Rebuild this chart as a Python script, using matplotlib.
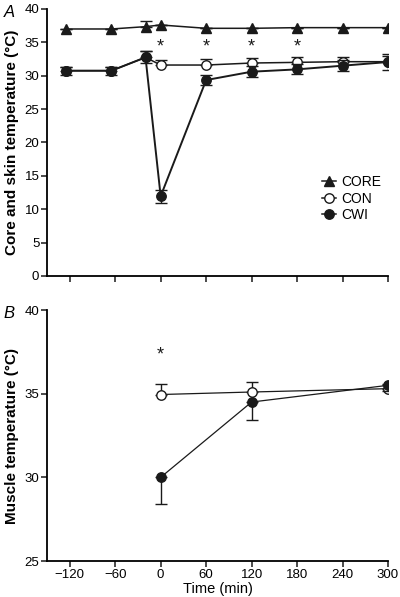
import matplotlib.pyplot as plt
from matplotlib.lines import Line2D

plt.rcParams['font.family'] = ['Liberation Sans', 'DejaVu Sans']

# panel A: core and skin temperature
t_pre = [-125, -65, -20]
t_post = [0, 60, 120, 180, 240, 300]
t_all = t_pre + t_post

core = [37.0, 37.0, 37.35, 37.6, 37.1, 37.1, 37.2, 37.2, 37.2]
core_err = [0.0, 0.0, 0.8, 0.0, 0.0, 0.0, 0.0, 0.0, 0.0]

con_a = [30.75, 30.75, 32.75, 31.6, 31.6, 31.9, 32.0, 32.1, 32.1]
con_a_err = [0.6, 0.6, 0.9, 0.7, 0.9, 0.8, 0.8, 0.7, 0.9]

cwi_a = [30.75, 30.75, 32.75, 11.95, 29.35, 30.6, 30.95, 31.5, 32.05]
cwi_a_err = [0.6, 0.6, 0.9, 0.95, 0.75, 0.8, 0.75, 0.8, 1.2]

star_a_x = [0, 60, 120, 180]
star_a_y = 34.75

# panel B: muscle temperature
t_b = [0, 120, 300]
con_b = [34.95, 35.1, 35.3]
con_b_err = [0.65, 0.6, 0.3]
cwi_b = [30.0, 34.5, 35.5]
cwi_b_err = [1.6, 1.05, 0.35]
star_b_x = [0]
star_b_y = 37.5

xticks = [-120, -60, 0, 60, 120, 180, 240, 300]

fig = plt.figure(figsize=(4.0, 5.97), dpi=100)
ax1 = fig.add_axes([0.1175, 0.5377, 0.8525, 0.4473])
ax2 = fig.add_axes([0.1175, 0.0603, 0.8525, 0.4204])

ms = 6.8
k = '#1a1a1a'

ax1.errorbar(t_all, core, yerr=[[0] * 9, core_err], color=k, lw=1.1, marker='^',
             ms=ms, capsize=4, elinewidth=1.0, capthick=1.0, zorder=3)
ax1.errorbar(t_all, con_a, yerr=[[0] * 9, con_a_err], color=k, lw=1.1, marker='o',
             ms=ms, mfc='white', mec=k, capsize=4, elinewidth=1.0, capthick=1.0,
             zorder=3)
ax1.errorbar(t_all, cwi_a, yerr=cwi_a_err, color=k, lw=1.4, marker='o',
             ms=ms, mfc=k, mec=k, capsize=4, elinewidth=1.0, capthick=1.0,
             zorder=4)
for x in star_a_x:
    ax1.text(x, star_a_y - 0.5, '*', ha='center', va='center', fontsize=13, color=k)

handles = [
    Line2D([], [], color=k, lw=1.1, marker='^', ms=ms),
    Line2D([], [], color=k, lw=1.1, marker='o', ms=ms, mfc='white', mec=k),
    Line2D([], [], color=k, lw=1.1, marker='o', ms=ms, mfc=k, mec=k),
]
ax1.legend(handles, ['CORE', 'CON', 'CWI'], loc='center left',
           bbox_to_anchor=(0.77, 0.29), frameon=False, fontsize=10,
           handlelength=1.0, handletextpad=0.4, labelspacing=0.2)

ax1.set_xlim(-150, 300)
ax1.set_ylim(0, 40)
ax1.set_yticks(range(0, 41, 5))
ax1.set_xticks(xticks)
ax1.set_xticklabels([])
ax1.set_ylabel('Core and skin temperature (°C)', fontsize=11, fontweight='bold',
               labelpad=4)
ax1.text(-0.11, 0.985, 'A', transform=ax1.transAxes, fontsize=12, style='italic',
         ha='center', va='center')

ax2.errorbar(t_b, con_b, yerr=[[0] * 3, con_b_err], color=k, lw=0.9, marker='o',
             ms=ms, mfc='white', mec=k, capsize=4, elinewidth=1.0, capthick=1.0, zorder=3)
ax2.errorbar(t_b, cwi_b, yerr=[cwi_b_err, [0] * 3], color=k, lw=0.9, marker='o',
             ms=ms, mfc=k, mec=k, capsize=4, elinewidth=1.0, capthick=1.0, zorder=4)
for x in star_b_x:
    ax2.text(x, star_b_y - 0.2, '*', ha='center', va='center', fontsize=13, color=k)

ax2.set_xlim(-150, 300)
ax2.set_ylim(25, 40)
ax2.set_yticks([25, 30, 35, 40])
ax2.set_xticks(xticks)
ax2.set_xlabel('Time (min)', fontsize=10.5, labelpad=1)
ax2.set_ylabel('Muscle temperature (°C)', fontsize=11, fontweight='bold', labelpad=4)
ax2.text(-0.11, 0.985, 'B', transform=ax2.transAxes, fontsize=12, style='italic',
         ha='center', va='center')

for ax in (ax1, ax2):
    ax.spines['top'].set_visible(False)
    ax.spines['right'].set_visible(False)
    ax.spines['left'].set_linewidth(1.3)
    ax.spines['bottom'].set_linewidth(1.3)
    ax.tick_params(axis='both', labelsize=9.5, width=1.1, length=4, pad=1.5, color=k)

fig.savefig('out.png', dpi=100)
